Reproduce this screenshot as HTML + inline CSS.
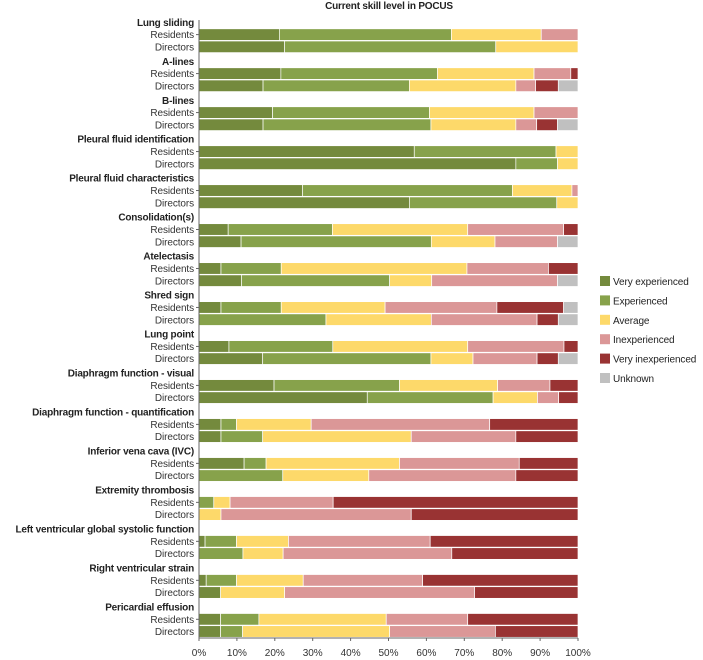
<!DOCTYPE html>
<html><head><meta charset="utf-8"><style>
body{margin:0;background:#fff;}
svg{display:block;font-family:"Liberation Sans",sans-serif;}
</style></head><body>
<svg id="chart" width="703" height="660" viewBox="0 0 703 660" xmlns="http://www.w3.org/2000/svg">
<text x="389" y="9" text-anchor="middle" font-size="10" font-weight="bold" letter-spacing="-0.2" fill="#222">Current skill level in POCUS</text>
<g id="bars"></g><g id="labels"></g><g id="axis"></g><g id="legend"></g>
</svg>
<script>
const categories=["Lung sliding","A-lines","B-lines","Pleural fluid identification","Pleural fluid characteristics","Consolidation(s)","Atelectasis","Shred sign","Lung point","Diaphragm function - visual","Diaphragm function - quantification","Inferior vena cava (IVC)","Extremity thrombosis","Left ventricular global systolic function","Right ventricular strain","Pericardial effusion"];
const groups=["Residents","Directors"];
const seriesNames=["Very experienced","Experienced","Average","Inexperienced","Very inexperienced","Unknown"];
const seriesColors=["#748a3d","#87a24b","#fdd96a","#db9797","#993333","#c0c0c0"];
const residents=[
[21.2,45.4,23.7,9.7,0,0],[21.6,41.3,25.5,9.7,1.9,0],[19.4,41.4,27.6,11.6,0,0],[56.8,37.4,5.8,0,0,0],
[27.3,55.4,15.7,1.6,0,0],[7.7,27.5,35.7,25.3,3.8,0],[5.8,15.9,49,21.5,7.8,0],[5.8,15.9,27.4,29.5,17.6,3.8],
[7.9,27.4,35.6,25.4,3.7,0],[19.8,33.1,25.9,13.8,7.4,0],[5.8,4.1,19.7,47.1,23.3,0],[11.9,5.8,35.2,31.6,15.5,0],
[0,3.9,4.3,27.2,64.6,0],[1.6,8.3,13.7,37.4,39,0],[1.9,8,17.6,31.5,41,0],[5.7,10.1,33.6,21.5,29.1,0]];
const directors=[
[22.6,55.7,21.7,0,0,0],[16.9,38.6,28.1,5.2,6.0,5.2],[16.9,44.3,22.4,5.5,5.5,5.4],[83.6,11,5.4,0,0,0],
[55.5,38.9,5.6,0,0,0],[11.1,50.2,16.8,16.5,0,5.4],[11.2,39.1,11.1,33.2,0,5.4],[0,33.5,27.8,27.9,5.6,5.2],
[16.8,44.4,11.1,16.9,5.6,5.2],[44.4,33.2,11.7,5.6,5.1,0],[5.8,11,39.2,27.6,16.4,0],[0,22.1,22.7,38.8,16.4,0],
[0,0,5.8,50.2,44,0],[0,11.6,10.6,44.5,33.3,0],[5.7,0,16.9,50.1,27.3,0],[5.7,5.8,38.8,27.9,21.8,0]];
const xTicks=[0,10,20,30,40,50,60,70,80,90,100];

const NS="http://www.w3.org/2000/svg";
const X0=199,X1=578,TOP=28.8,PITCH=38.98,BH=11.6;
function xs(v){return X0+(X1-X0)*v/100;}
function mk(t,a,p){const e=document.createElementNS(NS,t);for(const k in a)e.setAttribute(k,a[k]);p.appendChild(e);return e;}
const gb=document.getElementById('bars'),gl=document.getElementById('labels'),ga=document.getElementById('axis'),gg=document.getElementById('legend');
categories.forEach((c,i)=>{
  const y0=TOP+i*PITCH;
  const h=mk('text',{x:194,y:y0-3,'text-anchor':'end','font-size':'10','font-weight':'bold','letter-spacing':'-0.2',fill:'#222'},gl);
  h.textContent=c;
  
  
  [residents[i],directors[i]].forEach((vals,j)=>{
    const y=y0+j*12.2;
    const lab=mk('text',{x:194,y:y+BH/2+3.6,'text-anchor':'end','font-size':'10','letter-spacing':'-0.1',fill:'#333'},gl);
    lab.textContent=groups[j];
    
    
    let cum=0;
    vals.forEach((v,k)=>{
      if(v<=0)return;
      const r=mk('rect',{x:xs(cum),y:y,width:xs(cum+v)-xs(cum),height:BH,fill:seriesColors[k],stroke:'#fff','stroke-width':'0.7'},gb);
      
      
      cum+=v;
    });
  });
  const t=mk('line',{x1:196,x2:199,y1:y0+BH/2,y2:y0+BH/2,stroke:'#666','stroke-width':'1'},ga);
  
  
});
const ax=mk('line',{x1:X0,x2:X0,y1:20,y2:638,stroke:'#666','stroke-width':'1'},ga);


const bx=mk('line',{x1:X0,x2:X1,y1:638,y2:638,stroke:'#666','stroke-width':'1'},ga);


xTicks.forEach(v=>{
  const tk=mk('line',{x1:xs(v),x2:xs(v),y1:638,y2:641,stroke:'#666'},ga);
  
  
  const tl=mk('text',{x:xs(v),y:656,'text-anchor':'middle','font-size':'10',fill:'#333'},ga);
  tl.textContent=v+'%';
  
  
});
seriesNames.forEach((n,k)=>{
  const cy=281+k*19.4;
  const sq=mk('rect',{x:600,y:cy-5,width:10,height:10,fill:seriesColors[k]},gg);
  
  
  const lt=mk('text',{x:613,y:cy+4,'font-size':'10','letter-spacing':'-0.1',fill:'#222'},gg);
  lt.textContent=n;
  
  
});
</script>
</body></html>
